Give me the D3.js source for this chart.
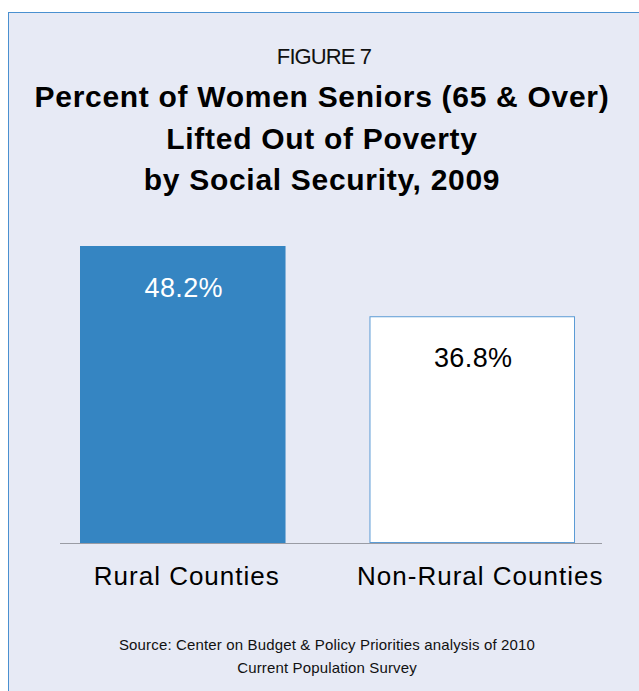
<!DOCTYPE html>
<html>
<head>
<meta charset="utf-8">
<script src="https://cdn.jsdelivr.net/npm/d3@7/dist/d3.min.js"></script>
<style>
  html, body { margin: 0; padding: 0; background: #fff; }
  svg { display: block; font-family: "Liberation Sans", Arial, Helvetica, sans-serif; }
</style>
</head>
<body>
<svg id="chart" width="639" height="691"></svg>
<script>
// Figure data
const categories = ["Rural Counties", "Non-Rural Counties"];
const values = [48.2, 36.8];
const valueLabels = ["48.2%", "36.8%"];
const figureLabel = "FIGURE 7";
const titleLines = [
  "Percent of Women Seniors (65 & Over)",
  "Lifted Out of Poverty",
  "by Social Security, 2009"
];
const sourceLines = [
  "Source: Center on Budget & Policy Priorities analysis of 2010",
  "Current Population Survey"
];

const W = 639, H = 691;
const svg = d3.select("#chart");

// panel background with blue frame
svg.append("rect")
  .attr("x", 8.5).attr("y", 12.5)
  .attr("width", W + 20).attr("height", H + 20)
  .attr("fill", "#e7eaf5")
  .attr("stroke", "#4a90d0").attr("stroke-width", 1);

// headings
svg.append("text")
  .attr("x", 324).attr("y", 64)
  .attr("text-anchor", "middle")
  .attr("font-size", 22).attr("letter-spacing", -0.9).attr("fill", "#111")
  .text(figureLabel);

svg.selectAll("text.title")
  .data(titleLines)
  .enter().append("text")
  .attr("class", "title")
  .attr("x", 322)
  .attr("y", (d, i) => 107 + i * 41.5)
  .attr("text-anchor", "middle")
  .attr("font-size", 30).attr("font-weight", "bold")
  .attr("letter-spacing", 0.7).attr("fill", "#000")
  .text(d => d);

// scales
const x = d3.scaleBand()
  .domain(categories)
  .range([80, 575])
  .paddingInner(0.29)
  .paddingOuter(0);

const y = d3.scaleLinear()
  .domain([0, 48.2])
  .range([543, 246]);

const fills = ["#3585c2", "#ffffff"];
const strokes = ["none", "#5b9bd5"];

svg.selectAll("rect.bar")
  .data(values)
  .enter().append("rect")
  .attr("class", "bar")
  .attr("x", (d, i) => x(categories[i]) + (i === 1 ? 0.5 : 0))
  .attr("y", (d, i) => y(d) + (i === 1 ? 0.5 : 0))
  .attr("width", (d, i) => x.bandwidth() - (i === 1 ? 1 : 0))
  .attr("height", (d, i) => y(0) - y(d) - (i === 1 ? 1 : 0))
  .attr("fill", (d, i) => fills[i])
  .attr("stroke", (d, i) => strokes[i])
  .attr("stroke-width", 1);

// baseline
svg.append("line")
  .attr("x1", 60).attr("x2", 602)
  .attr("y1", y(0) + 0.5).attr("y2", y(0) + 0.5)
  .attr("stroke", "#9a9ca4").attr("stroke-width", 1);

// value labels inside bars
svg.selectAll("text.val")
  .data(values)
  .enter().append("text")
  .attr("class", "val")
  .attr("x", (d, i) => x(categories[i]) + x.bandwidth() / 2 + 1)
  .attr("y", d => y(d) + 51)
  .attr("text-anchor", "middle")
  .attr("font-size", 27).attr("letter-spacing", 0.4)
  .attr("fill", (d, i) => i === 0 ? "#fff" : "#000")
  .text((d, i) => valueLabels[i]);

// category axis labels
const axis = d3.axisBottom(x).tickSize(0).tickPadding(0);
const gAxis = svg.append("g")
  .attr("transform", `translate(0, ${y(0)})`)
  .call(axis);
gAxis.select(".domain").remove();
gAxis.selectAll("text")
  .attr("dy", null)
  .attr("y", 42)
  .attr("x", (d, i) => i === 0 ? 4 : 8)
  .attr("font-family", "Liberation Sans, Arial, sans-serif")
  .attr("font-size", 26)
  .attr("letter-spacing", 1)
  .attr("fill", "#000");

// source note
svg.selectAll("text.src")
  .data(sourceLines)
  .enter().append("text")
  .attr("class", "src")
  .attr("x", 327)
  .attr("y", (d, i) => 650 + i * 22.5)
  .attr("text-anchor", "middle")
  .attr("font-size", 15).attr("letter-spacing", 0.15).attr("fill", "#111")
  .text(d => d);
</script>
</body>
</html>
